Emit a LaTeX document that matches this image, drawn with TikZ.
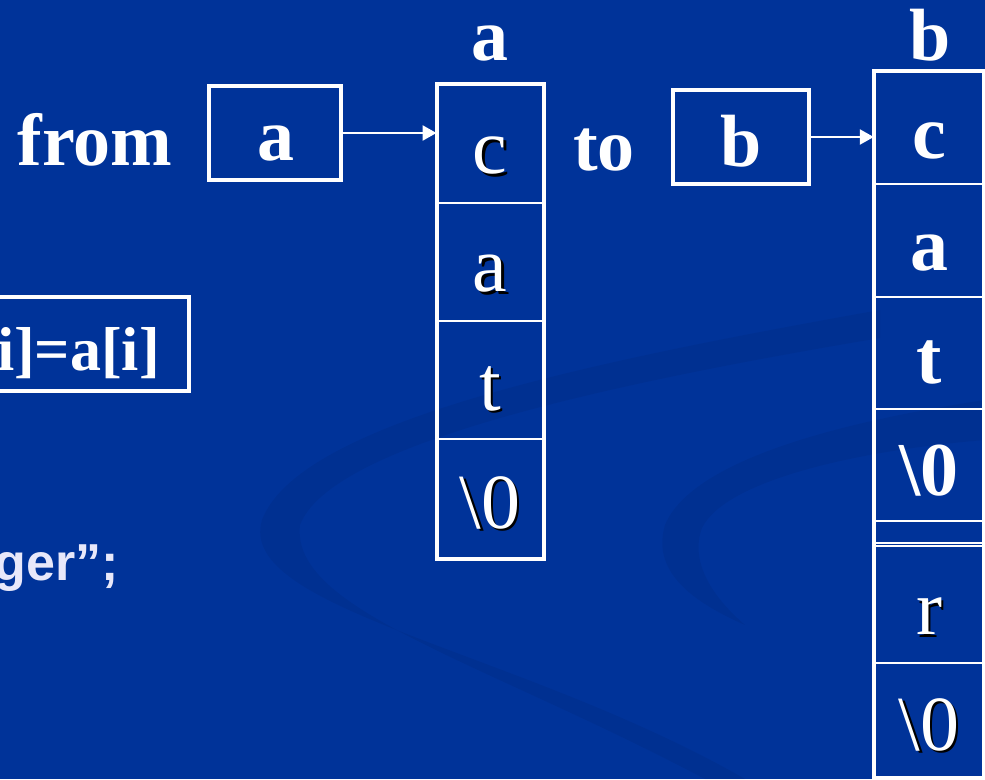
\documentclass[tikz,border=0pt]{standalone}
\usepackage{fontspec}
\setmainfont{Liberation Serif}
\newfontfamily\arialfont{Liberation Sans}
\usetikzlibrary{arrows.meta}
\definecolor{bgblue}{RGB}{0,51,153}
\definecolor{lav}{RGB}{232,232,250}
\newcommand\shadowtxt[1]{\rlap{\kern2.5pt\raisebox{-2.5pt}{\color{black}#1}}#1}
\tikzset{
  bigbold/.style={text=white,inner sep=0pt,font=\fontsize{74}{80}\selectfont\bfseries},
  frame/.style={draw=white,line width=3.5pt,inner sep=0pt},
  acell/.style={draw=white,line width=2pt,minimum width=105pt,minimum height=118.25pt,inner sep=0pt,text height=60pt,text depth=0pt,text=white,font=\fontsize{78}{80}\selectfont},
  bcell/.style={draw=white,line width=2.5pt,minimum width=108pt,inner sep=0pt,text height=60pt,text depth=0pt,text=white,font=\fontsize{76}{80}\selectfont\bfseries},
  regfont/.style={font=\fontsize{78}{80}\selectfont},
  ptr/.style={draw=white,line width=2.5pt,-{Triangle[length=14pt,width=15pt]}},
}
\begin{document}
\begin{tikzpicture}[x=1pt,y=-1pt]
\useasboundingbox (0,0) rectangle (985,779);
\fill[bgblue] (0,0) rectangle (985,779);
\begin{scope}
\clip (0,0) rectangle (985,779);
% faint background swoosh
\fill[black,fill opacity=0.05] (880,310) .. controls (600,360) and (300,420) .. (262,520) .. controls (235,610) and (520,650) .. (745,779) -- (705,779) .. controls (480,660) and (290,610) .. (300,525) .. controls (330,445) and (600,385) .. (880,338) -- cycle;
\fill[black,fill opacity=0.05] (985,400) .. controls (820,425) and (690,465) .. (665,525) .. controls (650,575) and (700,605) .. (745,625) .. controls (710,595) and (690,560) .. (702,528) .. controls (725,480) and (860,450) .. (985,440) -- cycle;

% left code box (cut off)
\node[frame,minimum width=380pt,minimum height=94pt] (cp) at (-1,344) {};
\node[bigbold,anchor=base east,font=\fontsize{62}{70}\selectfont\bfseries] (code) at (160,370) {i]=a[i]};
\node[anchor=base east,inner sep=0pt,text=lav,font=\arialfont\bfseries\fontsize{52}{60}\selectfont] (str) at (119,580) {ger”;};

% from / to
\node[bigbold,anchor=base] (from) at (95,165) {from};
\node[bigbold,anchor=base] (to) at (604,170) {to};

% pointer boxes
\node[frame,minimum width=132pt,minimum height=94pt] (pa) at (275,133) {};
\node[bigbold,anchor=base] (pal) at (276,160) {a};
\node[frame,minimum width=136pt,minimum height=94pt] (pb) at (741,137) {};
\node[bigbold,anchor=base] (pbl) at (741,166) {b};

% array a
\node[bigbold,anchor=base] (la) at (490,60) {a};
\node[acell] (ac) at (490,143.625) {\shadowtxt{c}};
\node[acell] (aa) at (490,261.875) {\shadowtxt{a}};
\node[acell] (at) at (490,380.125) {\shadowtxt{t}};
\node[acell] (az) at (490,498.375) {\shadowtxt{\textbackslash 0}};
\draw[white,line width=4pt] (ac.north west) rectangle (az.south east);

% array b
\node[bigbold,anchor=base] (lb) at (930,60) {b};
\node[bcell,minimum height=112pt] (bc) at (929,128) {c};
\node[bcell,minimum height=113pt] (ba) at (929,240.5) {a};
\node[bcell,minimum height=112pt] (bt) at (929,353) {t};
\node[bcell,minimum height=112pt] (bz) at (929,465) {\textbackslash 0};
\node[bcell,minimum height=22pt,text height=0pt] (bg) at (929,532) {};
\node[bcell,regfont,minimum height=117pt] (br) at (929,604.5) {\shadowtxt{r}};
\node[bcell,regfont,minimum height=114pt] (bz2) at (929,720) {\shadowtxt{\textbackslash 0}};
\draw[white,line width=4pt] (bc.north west) rectangle (bz2.south east);

% pointers
\draw[ptr] (pa.east) -- (pa.east -| ac.west);
\draw[ptr] (pb.east) -- (pb.east -| bc.west);
\end{scope}
\end{tikzpicture}
\end{document}
